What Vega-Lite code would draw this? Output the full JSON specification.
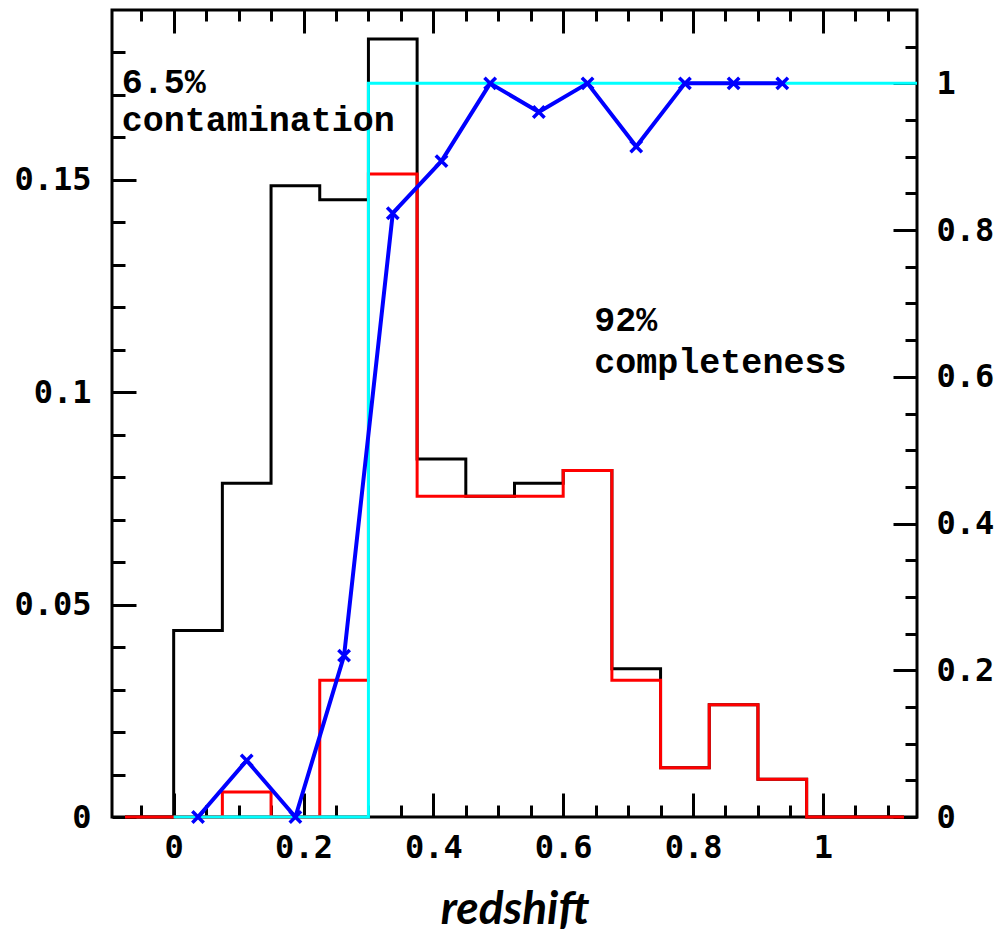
{
  "$schema": "https://vega.github.io/schema/vega-lite/v6.json",
  "width": 805,
  "height": 807,
  "autosize": {"type": "none"},
  "padding": {"left": 112, "top": 10, "right": 79, "bottom": 119},
  "background": "white",
  "config": {
    "view": {"stroke": "black", "strokeWidth": 3},
    "axis": {
      "domain": false,
      "grid": false,
      "tickColor": "black",
      "tickWidth": 3,
      "labelColor": "black",
      "labelFont": "DejaVu Sans Mono",
      "labelFontWeight": "bold",
      "labelFontSize": 32,
      "labelOverlap": false,
      "labelFlush": false
    }
  },
  "datasets": {
    "hist": [
      {"z0": -0.075, "total": 0, "sel": 0},
      {"z0": 0.0, "total": 0.0439, "sel": 0},
      {"z0": 0.075, "total": 0.0786, "sel": 0.0059},
      {"z0": 0.15, "total": 0.1486, "sel": 0},
      {"z0": 0.225, "total": 0.1453, "sel": 0.0322},
      {"z0": 0.3, "total": 0.1832, "sel": 0.1514},
      {"z0": 0.375, "total": 0.0843, "sel": 0.0755},
      {"z0": 0.45, "total": 0.0755, "sel": 0.0755},
      {"z0": 0.525, "total": 0.0786, "sel": 0.0755},
      {"z0": 0.6, "total": 0.0816, "sel": 0.0816},
      {"z0": 0.675, "total": 0.0349, "sel": 0.0322},
      {"z0": 0.75, "total": 0.0116, "sel": 0.0116},
      {"z0": 0.825, "total": 0.0264, "sel": 0.0264},
      {"z0": 0.9, "total": 0.0089, "sel": 0.0089},
      {"z0": 0.975, "total": 0, "sel": 0},
      {"z0": 1.05, "total": 0, "sel": 0},
      {"z0": 1.125, "total": 0, "sel": 0}
    ],
    "comp": [
      {"zc": 0.0375, "c": 0},
      {"zc": 0.1125, "c": 0.077},
      {"zc": 0.1875, "c": 0},
      {"zc": 0.2625, "c": 0.22},
      {"zc": 0.3375, "c": 0.823},
      {"zc": 0.4125, "c": 0.894},
      {"zc": 0.4875, "c": 1},
      {"zc": 0.5625, "c": 0.961},
      {"zc": 0.6375, "c": 1},
      {"zc": 0.7125, "c": 0.914},
      {"zc": 0.7875, "c": 1},
      {"zc": 0.8625, "c": 1},
      {"zc": 0.9375, "c": 1}
    ],
    "cut": [
      {"z": 0, "f": 0},
      {"z": 0.3, "f": 1},
      {"z": 1.145, "f": 1}
    ],
    "notes": [
      {"z": -0.08, "v": 0.1705, "label": "6.5%"},
      {"z": -0.08, "v": 0.1615, "label": "contamination"},
      {"z": 0.648, "v": 0.1145, "label": "92%"},
      {"z": 0.648, "v": 0.1045, "label": "completeness"}
    ]
  },
  "layer": [
    {
      "data": {"name": "hist"},
      "mark": {"type": "line", "interpolate": "step-after", "color": "black", "strokeWidth": 3},
      "encoding": {
        "x": {
          "field": "z0", "type": "quantitative",
          "scale": {"domain": [-0.095, 1.145], "nice": false, "zero": false},
          "axis": {
            "orient": "bottom", "values": [0, 0.2, 0.4, 0.6, 0.8, 1], "format": "~g",
            "tickSize": -24, "labelPadding": 39,
            "title": "redshift", "titleFont": "Lato", "titleFontStyle": "italic",
            "titleFontWeight": "bold", "titleFontSize": 46, "titleColor": "black", "titlePadding": 24
          }
        },
        "y": {
          "field": "total", "type": "quantitative",
          "scale": {"domain": [0, 0.19], "nice": false, "zero": false},
          "axis": {"orient": "left", "values": [0, 0.05, 0.1, 0.15], "format": "~g", "tickSize": -24, "labelPadding": 45, "title": null}
        }
      }
    },
    {
      "data": {"name": "hist"},
      "mark": {"type": "line", "interpolate": "step-after", "color": "#ff0000", "strokeWidth": 3},
      "encoding": {
        "x": {
          "field": "z0", "type": "quantitative",
          "scale": {"domain": [-0.095, 1.145], "nice": false, "zero": false},
          "axis": {"orient": "bottom", "values": [-0.05, 0.05, 0.1, 0.15, 0.25, 0.3, 0.35, 0.45, 0.5, 0.55, 0.65, 0.7, 0.75, 0.85, 0.9, 0.95, 1.05, 1.1], "tickSize": -12, "labels": false, "title": null}
        },
        "y": {
          "field": "sel", "type": "quantitative",
          "scale": {"domain": [0, 0.19], "nice": false, "zero": false},
          "axis": {"orient": "left", "values": [0.01, 0.02, 0.03, 0.04, 0.06, 0.07, 0.08, 0.09, 0.11, 0.12, 0.13, 0.14, 0.16, 0.17, 0.18], "tickSize": -13, "labels": false, "title": null}
        }
      }
    },
    {
      "data": {"name": "cut"},
      "mark": {"type": "line", "interpolate": "step-after", "color": "#00ffff", "strokeWidth": 3},
      "encoding": {
        "x": {
          "field": "z", "type": "quantitative",
          "scale": {"domain": [-0.095, 1.145], "nice": false, "zero": false},
          "axis": {"orient": "top", "values": [0, 0.2, 0.4, 0.6, 0.8, 1], "tickSize": -23, "labels": false, "title": null}
        },
        "y": {
          "field": "f", "type": "quantitative",
          "scale": {"domain": [0, 1.1], "nice": false, "zero": false},
          "axis": {"orient": "right", "values": [0, 0.2, 0.4, 0.6, 0.8, 1], "format": "~g", "tickSize": -24, "labelPadding": 43, "title": null}
        }
      }
    },
    {
      "data": {"name": "comp"},
      "mark": {"type": "line", "color": "#0000ff", "strokeWidth": 4, "strokeJoin": "round"},
      "encoding": {
        "x": {
          "field": "zc", "type": "quantitative",
          "scale": {"domain": [-0.095, 1.145], "nice": false, "zero": false},
          "axis": {"orient": "top", "values": [-0.05, 0.05, 0.1, 0.15, 0.25, 0.3, 0.35, 0.45, 0.5, 0.55, 0.65, 0.7, 0.75, 0.85, 0.9, 0.95, 1.05, 1.1], "tickSize": -11, "labels": false, "title": null}
        },
        "y": {
          "field": "c", "type": "quantitative",
          "scale": {"domain": [0, 1.1], "nice": false, "zero": false},
          "axis": {"orient": "right", "values": [0.05, 0.1, 0.15, 0.25, 0.3, 0.35, 0.45, 0.5, 0.55, 0.65, 0.7, 0.75, 0.85, 0.9, 0.95, 1.05], "tickSize": -12, "labels": false, "title": null}
        }
      }
    },
    {
      "data": {"name": "comp"},
      "mark": {"type": "point", "shape": "M-1,-1L1,1M-1,1L1,-1", "filled": false, "stroke": "#0000ff", "strokeWidth": 3.5, "size": 130, "opacity": 1},
      "encoding": {
        "x": {"field": "zc", "type": "quantitative", "scale": {"domain": [-0.095, 1.145], "nice": false, "zero": false}, "axis": null},
        "y": {"field": "c", "type": "quantitative", "scale": {"domain": [0, 1.1], "nice": false, "zero": false}, "axis": null}
      }
    },
    {
      "data": {"name": "notes"},
      "mark": {"type": "text", "align": "left", "baseline": "alphabetic", "font": "Liberation Mono", "fontWeight": "bold", "fontSize": 35, "color": "black"},
      "encoding": {
        "x": {"field": "z", "type": "quantitative", "scale": {"domain": [-0.095, 1.145], "nice": false, "zero": false}, "axis": null},
        "y": {"field": "v", "type": "quantitative", "scale": {"domain": [0, 0.19], "nice": false, "zero": false}, "axis": null},
        "text": {"field": "label"}
      }
    }
  ],
  "resolve": {"scale": {"y": "independent"}, "axis": {"x": "independent", "y": "independent"}}
}
